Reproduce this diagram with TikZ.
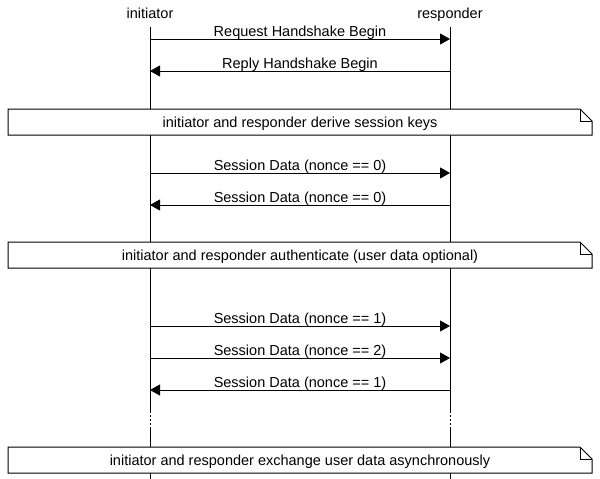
\documentclass[tikz,border=0pt]{standalone}
\usepackage{fontspec}
\setmainfont{Liberation Sans}
\usetikzlibrary{arrows.meta}
\begin{document}
\begin{tikzpicture}[x=1pt,y=-1pt,line width=1pt,
  msg/.style={-{Triangle[length=10pt,width=11pt]}},
  lbl/.style={anchor=base,inner sep=0pt,font=\fontsize{14.5}{16}\selectfont},
  notebox/.style={draw=black,fill=white,line width=1pt},
  dotline/.style={dash pattern=on 2pt off 2pt}]
\useasboundingbox (0,0) rectangle (600,479);
% lifeline heads
\node[lbl] (ini) at (150,18) {initiator};
\node[lbl] (res) at (450,18) {responder};
\coordinate (iT) at (150,27); \coordinate (rT) at (450,27);
\coordinate (iD1) at (150,411); \coordinate (rD1) at (450,411);
\coordinate (iD2) at (150,427); \coordinate (rD2) at (450,427);
\coordinate (iB) at (150,479); \coordinate (rB) at (450,479);
\draw (iT) -- (iD1); \draw[dotline] (iD1) -- (iD2); \draw (iD2) -- (iB);
\draw (rT) -- (rD1); \draw[dotline] (rD1) -- (rD2); \draw (rD2) -- (rB);
% notes
\foreach \t/\b in {109/135,242/268,447/473}{
  \draw[notebox] (8,\t) -- (580,\t) -- (592,\t+12) -- (592,\b) -- (8,\b) -- cycle;
  \draw (580,\t) -- (580,\t+12) -- (592,\t+12);
}
\node[lbl] (n1) at (300,127) {initiator and responder derive session keys};
\node[lbl] (n2) at (300,260) {initiator and responder authenticate (user data optional)};
\node[lbl] (n3) at (300,465) {initiator and responder exchange user data asynchronously};
% messages
\coordinate (i1) at (150,39);  \coordinate (r1) at (450,39);
\coordinate (i2) at (150,71);  \coordinate (r2) at (450,71);
\coordinate (i3) at (150,173); \coordinate (r3) at (450,173);
\coordinate (i4) at (150,205); \coordinate (r4) at (450,205);
\coordinate (i5) at (150,326); \coordinate (r5) at (450,326);
\coordinate (i6) at (150,358); \coordinate (r6) at (450,358);
\coordinate (i7) at (150,390); \coordinate (r7) at (450,390);
\draw[msg] (i1) -- (r1); \node[lbl] (m1) at (300,36) {Request Handshake Begin};
\draw[msg] (r2) -- (i2); \node[lbl] (m2) at (300,68) {Reply Handshake Begin};
\draw[msg] (i3) -- (r3); \node[lbl] (m3) at (300,170) {Session Data (nonce == 0)};
\draw[msg] (r4) -- (i4); \node[lbl] (m4) at (300,202) {Session Data (nonce == 0)};
\draw[msg] (i5) -- (r5); \node[lbl] (m5) at (300,323) {Session Data (nonce == 1)};
\draw[msg] (i6) -- (r6); \node[lbl] (m6) at (300,355) {Session Data (nonce == 2)};
\draw[msg] (r7) -- (i7); \node[lbl] (m7) at (300,387) {Session Data (nonce == 1)};
\end{tikzpicture}
\end{document}
